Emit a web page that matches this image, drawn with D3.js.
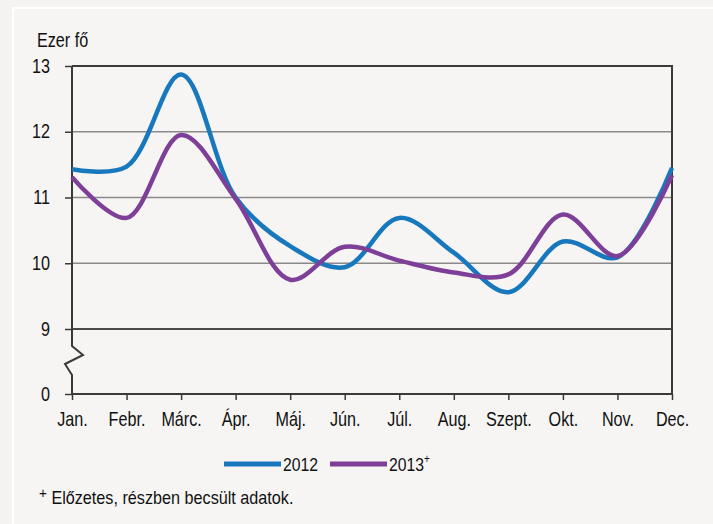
<!DOCTYPE html>
<html>
<head>
<meta charset="utf-8">
<script src="https://cdn.jsdelivr.net/npm/d3@7"></script>
<style>
  body { margin: 0; background: #f4f3f1; }
  svg { display: block; }
  text { font-family: "Liberation Sans", Arial, sans-serif; fill: #111; }
</style>
</head>
<body>
<div id="chart"></div>
<script>
// Havi adatok, ezer fő
const months = ["Jan.", "Febr.", "Márc.", "Ápr.", "Máj.", "Jún.", "Júl.", "Aug.", "Szept.", "Okt.", "Nov.", "Dec."];
const values2012 = [11.43, 11.47, 12.87, 11.0, 10.26, 9.94, 10.69, 10.16, 9.56, 10.33, 10.09, 11.45];
const values2013 = [11.31, 10.69, 11.95, 10.98, 9.75, 10.25, 10.04, 9.86, 9.83, 10.74, 10.11, 11.34];
const yTicks = [0, 9, 10, 11, 12, 13];
const seriesNames = ["2012", "2013"];
const colors = ["#1878be", "#7e3f98"];

const width = 713, height = 524;
const margin = { top: 66, right: 41, bottom: 130, left: 72 };
const plotW = width - margin.left - margin.right;
const plotH = height - margin.top - margin.bottom;
const squeeze = 0.83;  // fake a narrow font

const svg = d3.select("#chart")
    .append("svg")
    .attr("width", width)
    .attr("height", height);

// panel with thin white frame
svg.append("rect")
    .attr("x", 13).attr("y", 8)
    .attr("width", 710).attr("height", 530)
    .attr("fill", "#f6f5f3")
    .attr("stroke", "#ffffff")
    .attr("stroke-width", 2);

const g = svg.append("g")
    .attr("transform", `translate(${margin.left},${margin.top})`);

const x = d3.scalePoint()
    .domain(months)
    .range([0, plotW]);

// broken axis: 0..9 squeezed into the bottom part
const y = d3.scaleLinear()
    .domain([0, 9, 13])
    .range([plotH, plotH - 65, 0]);

// gridlines
g.selectAll(".grid")
    .data(yTicks.filter(d => d > 9 && d < 13))
    .join("line")
    .attr("x1", 0).attr("x2", plotW)
    .attr("y1", d => y(d)).attr("y2", d => y(d))
    .attr("stroke", "#8a8a8a")
    .attr("stroke-width", 1.5);

g.append("line")
    .attr("x1", 0).attr("x2", plotW)
    .attr("y1", y(9)).attr("y2", y(9))
    .attr("stroke", "#111")
    .attr("stroke-width", 1.3);

// frame top + right + bottom
g.append("path")
    .attr("d", `M0,0H${plotW}V${plotH}H0`)
    .attr("fill", "none")
    .attr("stroke", "#3a3a3a")
    .attr("stroke-width", 2);

// left axis with break
const b0 = y(9) + 17;
g.append("path")
    .attr("d", `M0,0V${b0}L11,${b0 + 9}L-7,${b0 + 18}L0,${b0 + 29}V${plotH}`)
    .attr("fill", "none")
    .attr("stroke", "#3a3a3a")
    .attr("stroke-width", 2);

// y ticks
const yAxis = g.append("g")
    .call(d3.axisLeft(y).tickValues(yTicks).tickSize(7).tickFormat(d3.format("d")));
yAxis.select(".domain").remove();
yAxis.selectAll("line").attr("stroke", "#3a3a3a").attr("stroke-width", 1.5);
yAxis.selectAll("text")
    .attr("x", -22 / squeeze)
    .attr("font-size", 19.5)
    .attr("transform", `scale(${squeeze},1)`);

// x ticks
const xAxis = g.append("g")
    .attr("transform", `translate(0,${plotH})`)
    .call(d3.axisBottom(x).tickSize(6).tickPadding(12));
xAxis.select(".domain").remove();
xAxis.selectAll("line").attr("stroke", "#3a3a3a").attr("stroke-width", 1.5);
xAxis.selectAll("text")
    .attr("font-size", 19.5)
    .attr("transform", `scale(${squeeze},1)`);

// unit label
svg.append("text")
    .attr("transform", `translate(37,47) scale(${squeeze},1)`)
    .attr("font-size", 19.5)
    .text("Ezer fő");

// lines
const line = d3.line()
    .x((d, i) => x(months[i]))
    .y(d => y(d))
    .curve(d3.curveCatmullRom.alpha(0.5));

[values2012, values2013].forEach((vals, i) => {
    g.append("path")
        .datum(vals)
        .attr("d", line)
        .attr("fill", "none")
        .attr("stroke", colors[i])
        .attr("stroke-width", 4.5)
        .attr("stroke-linejoin", "round");
});

// legend
const legend = svg.append("g").attr("transform", "translate(224,464)");
seriesNames.forEach((name, i) => {
    const lg = legend.append("g").attr("transform", `translate(${i * 106},0)`);
    lg.append("line")
        .attr("x1", 0).attr("x2", 57)
        .attr("stroke", colors[i])
        .attr("stroke-width", 5);
    const t = lg.append("text")
        .attr("transform", `translate(59,7) scale(${squeeze},1)`)
        .attr("font-size", 19)
        .text(name);
    if (i === 1) {
        t.append("tspan")
            .attr("dy", -8)
            .attr("font-size", 12)
            .text("+");
    }
});

// footnote
const note = svg.append("text")
    .attr("transform", "translate(39,504) scale(0.9,1)")
    .attr("font-size", 18);
note.append("tspan").attr("dy", -6).attr("font-size", 15).text("+");
note.append("tspan").attr("dy", 6).text(" Előzetes, részben becsült adatok.");
</script>
</body>
</html>
